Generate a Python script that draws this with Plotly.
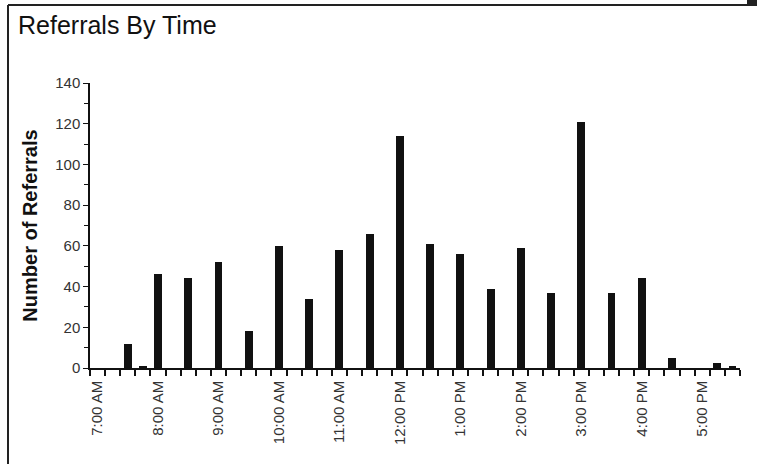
import plotly.graph_objects as go

# 15-minute time slots from 7:00 AM to 5:30 PM
slots = ["7:00 AM", "7:15 AM", "7:30 AM", "7:45 AM",
         "8:00 AM", "8:15 AM", "8:30 AM", "8:45 AM",
         "9:00 AM", "9:15 AM", "9:30 AM", "9:45 AM",
         "10:00 AM", "10:15 AM", "10:30 AM", "10:45 AM",
         "11:00 AM", "11:15 AM", "11:30 AM", "11:45 AM",
         "12:00 PM", "12:15 PM", "12:30 PM", "12:45 PM",
         "1:00 PM", "1:15 PM", "1:30 PM", "1:45 PM",
         "2:00 PM", "2:15 PM", "2:30 PM", "2:45 PM",
         "3:00 PM", "3:15 PM", "3:30 PM", "3:45 PM",
         "4:00 PM", "4:15 PM", "4:30 PM", "4:45 PM",
         "5:00 PM", "5:15 PM", "5:30 PM"]

referrals = [0, 0, 12, 1,
             46, 0, 44, 0,
             52, 0, 18, 0,
             60, 0, 34, 0,
             58, 0, 66, 0,
             114, 0, 61, 0,
             56, 0, 39, 0,
             59, 0, 37, 0,
             121, 0, 37, 0,
             44, 0, 5, 0,
             0, 2.5, 0.6]

hour_labels = ["7:00 AM", "8:00 AM", "9:00 AM", "10:00 AM", "11:00 AM",
               "12:00 PM", "1:00 PM", "2:00 PM", "3:00 PM", "4:00 PM", "5:00 PM"]

y_ticks = [0, 20, 40, 60, 80, 100, 120, 140]

x_pos = list(range(len(slots)))
label_pos = [slots.index(h) for h in hour_labels]
boundaries = [i - 0.5 for i in range(len(slots) + 1)]

fig = go.Figure(go.Bar(
    x=x_pos, y=referrals, width=0.52,
    marker=dict(color="#111111", line=dict(width=0)),
    hovertext=slots,
))

axis_font = dict(family="Liberation Sans, Arial, sans-serif", size=15, color="#333333")

W, H = 757, 464
L, R, T, B = 90, 17, 83, 96
pw, ph = W - L - R, H - T - B

fig.update_layout(
    width=W, height=H,
    paper_bgcolor="white", plot_bgcolor="white",
    margin=dict(l=L, r=R, t=T, b=B, autoexpand=False),
    showlegend=False,
    title=dict(text="Referrals By Time", xref="container", yref="container",
               x=18 / W, xanchor="left", y=1 - 25 / H, yanchor="middle",
               font=dict(family="Liberation Sans, Arial, sans-serif", size=25, color="#111111")),
    bargap=0,
)

fig.update_xaxes(
    range=[-0.5, len(slots) - 0.5],
    tickmode="array", tickvals=label_pos, ticktext=hour_labels,
    tickangle=-90, ticks="", ticklen=0, ticklabelstandoff=5,
    tickfont=axis_font,
    showline=True, linecolor="#111111", linewidth=1.5,
    showgrid=False, zeroline=False,
    minor=dict(tickmode="array", tickvals=boundaries, ticks="outside",
               ticklen=6, tickwidth=1.5, tickcolor="#111111", showgrid=False),
)

fig.update_yaxes(
    range=[0, 140],
    tickmode="array", tickvals=y_ticks,
    ticks="outside", ticklen=5, tickwidth=1.2, tickcolor="#111111",
    tickfont=axis_font,
    showline=True, linecolor="#111111", linewidth=1.5,
    showgrid=False, zeroline=False,
    minor=dict(dtick=10, ticks="outside", ticklen=4, tickwidth=1.2,
               tickcolor="#111111", showgrid=False),
    title=dict(text="<b>Number of Referrals</b>", standoff=12,
               font=dict(family="Liberation Sans, Arial, sans-serif", size=20, color="#111111")),
)

# outer frame (top and left edges visible in the reference)
fx = (8 - L) / pw
fy = 1 + (T - 5) / ph
fig.add_shape(type="line", xref="paper", yref="paper",
              x0=fx, x1=1 + R / pw, y0=fy, y1=fy,
              line=dict(color="#222222", width=2))
fig.add_shape(type="line", xref="paper", yref="paper",
              x0=fx, x1=fx, y0=fy, y1=-B / ph,
              line=dict(color="#222222", width=2))
fig.add_shape(type="rect", xref="paper", yref="paper",
              x0=1 + (747 - W + R) / pw, x1=1 + R / pw,
              y0=fy, y1=1 + T / ph,
              fillcolor="#222222", line=dict(width=0))

fig.write_html("out.html", config={"displayModeBar": False},
               post_script="document.body.style.margin='0';")
